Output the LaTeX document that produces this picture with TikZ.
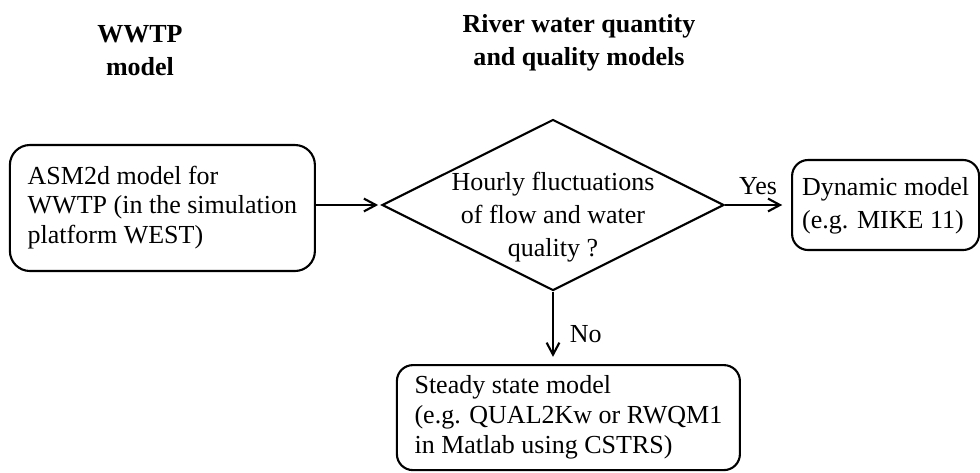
\documentclass[tikz,border=0pt]{standalone}
\usepackage{fontspec}
\setmainfont{Liberation Serif}
\usetikzlibrary{shapes.geometric, arrows.meta}

\begin{document}
\begin{tikzpicture}[
    >={Straight Barb[length=3mm, width=3.2mm]},
    line width=1.5pt,
    font=\fontsize{18.5}{21}\selectfont
  ]
      \useasboundingbox (0, 0) rectangle (24.5, -11.8);

      \node (wwtp) [font=\fontsize{18.5}{23.5}\selectfont\bfseries] at (3.5, -1.3) {
        \begin{tabular}{c}
          WWTP \\
          model
        \end{tabular}
      };
      \node (river) [font=\fontsize{18.5}{23.5}\selectfont\bfseries] at (14.475, -1.05) {
        \begin{tabular}{c}
          River water quantity \\
          and quality models
        \end{tabular}
      };

      \node (asm) [rectangle, draw, rounded corners=0.5cm, minimum width=7.625cm, minimum height=3.15cm] at (4.06, -5.2) {
        \begin{tabular}{@{}l@{}}
          ASM2d model for \\
          WWTP (in the simulation \\
          platform WEST)
        \end{tabular}
      };
      \node (hourly) [diamond, draw, inner sep=0pt, minimum width=8.55cm, minimum height=4.275cm,
        label={[yshift=-0.3cm, font=\fontsize{18.5}{23.5}\selectfont]center:{
        \begin{tabular}{@{}c@{}}
          Hourly fluctuations \\
          of flow and water \\
          quality ?
        \end{tabular}}}] at (13.825, -5.125) {};
      \node (dynamic) [rectangle, draw, rounded corners=0.4cm, minimum width=4.675cm, minimum height=2.25cm,
        font=\fontsize{18.5}{23.5}\selectfont] at (22.14, -5.125) {
        \begin{tabular}{@{}l@{}}
          Dynamic model \\
          (e.g. MIKE 11)
        \end{tabular}
      };
      \node (steady) [rectangle, draw, rounded corners=0.4cm, minimum width=8.575cm, minimum height=2.625cm] at (14.21, -10.44) {
        \begin{tabular}{@{}l@{}}
          Steady state model \\
          (e.g. QUAL2Kw or RWQM1 \\
          in Matlab using CSTRS)
        \end{tabular}
      };

      \draw[->, shorten >=2pt] (asm.east |- hourly.west) to (hourly.west);
      \draw[->, shorten >=0.22cm] (hourly.east) to node [midway, above, yshift=0.12cm] {Yes} (dynamic.west);
      \draw[->, shorten >=0.18cm] (hourly.south) to node [midway, right, xshift=0.28cm, yshift=-0.15cm] {No} (hourly.south |- steady.north);
    \end{tikzpicture}
\end{document}
